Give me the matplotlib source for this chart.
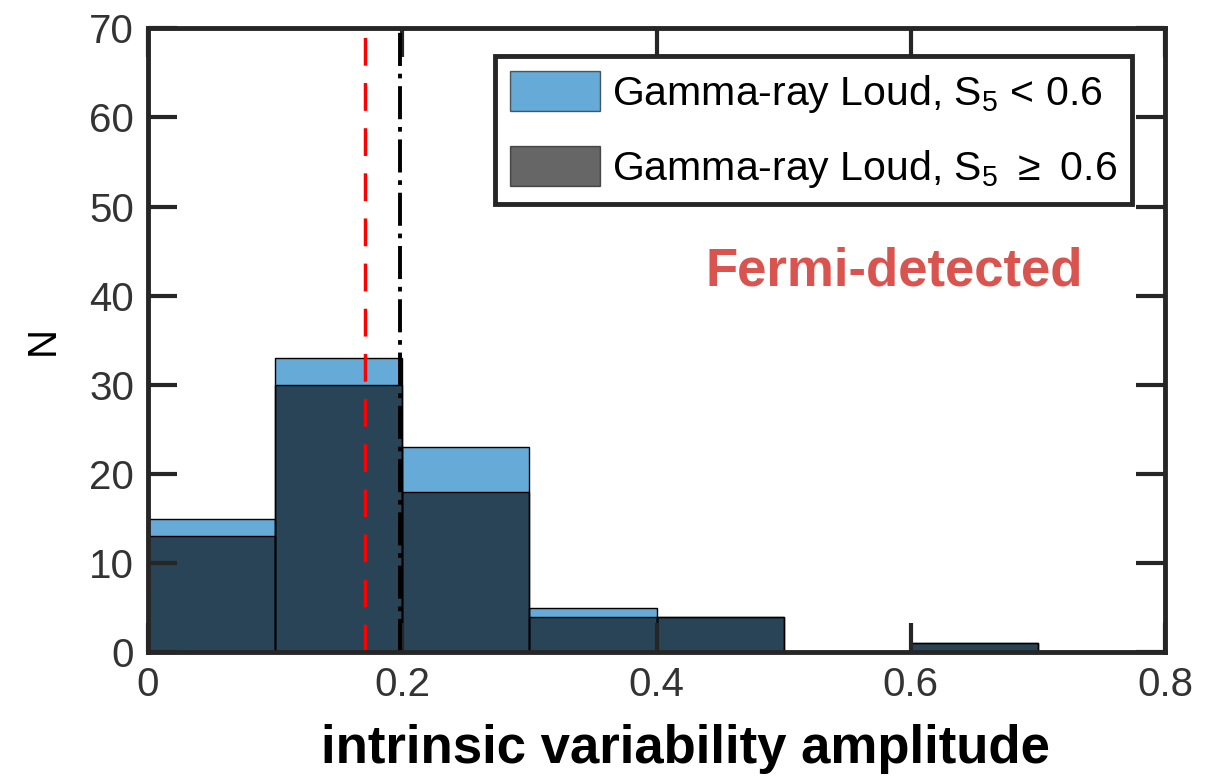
import matplotlib.pyplot as plt
import numpy as np

plt.rcParams["font.family"] = ["Liberation Sans", "DejaVu Sans"]
plt.rcParams["mathtext.fontset"] = "custom"
plt.rcParams["mathtext.rm"] = "Liberation Sans"

# histogram data (bin edges and counts)
bin_edges = [0.0, 0.1, 0.2, 0.3, 0.4, 0.5, 0.6, 0.7]
counts_low = [15, 33, 23, 5, 4, 0, 1]    # S5 < 0.6
counts_high = [13, 30, 18, 4, 4, 0, 1]   # S5 >= 0.6
median_low = 0.171
median_high = 0.198

label_low = r"Gamma-ray Loud, S$_5$ < 0.6"
label_high = r"Gamma-ray Loud, S$_5$ $\geq$ 0.6"

fig = plt.figure(figsize=(12.2, 7.84), dpi=100)
ax = fig.add_axes([0.1213, 0.168, 0.8337, 0.796])

lefts = np.array(bin_edges[:-1])
widths = np.diff(bin_edges)
ax.bar(lefts, counts_low, width=widths, align='edge', color=(0, 0.447, 0.741),
       alpha=0.6, edgecolor='none', label=label_low)
ax.bar(lefts, counts_low, width=widths, align='edge', fill=False,
       edgecolor='black', linewidth=1)
ax.bar(lefts, counts_high, width=widths, align='edge', color='black',
       alpha=0.6, edgecolor='none', label=label_high)
ax.bar(lefts, counts_high, width=widths, align='edge', fill=False,
       edgecolor='black', linewidth=1)

ax.axvline(median_low, color='red', ls=(0, (8, 5)), lw=2.5)
ax.axvline(median_high, color='black', ls=(0, (8.5, 2, 1.2, 2)), lw=2.8)

ax.set_xlim(0, 0.8)
ax.set_ylim(0, 70)
ax.set_xticks([0, 0.2, 0.4, 0.6, 0.8])
ax.set_xticklabels(['0', '0.2', '0.4', '0.6', '0.8'])
ax.set_yticks(range(0, 71, 10))

dark = '#262626'
for s in ax.spines.values():
    s.set_linewidth(3.5)
    s.set_color(dark)
ax.tick_params(direction='in', length=21, width=3, color=dark,
               labelsize=29, labelcolor='#333333', top=True, right=True, pad=10)

ax.set_xlabel('intrinsic variability amplitude', fontsize=38, fontweight='bold')
ax.xaxis.set_label_coords(0.528, -0.115)
ax.set_ylabel('N', fontsize=29, labelpad=20)

leg = ax.legend(loc='upper right', bbox_to_anchor=(0.967, 0.955), fontsize=29.5,
                frameon=True, fancybox=False, edgecolor=dark, framealpha=1,
                handlelength=2.2, handleheight=1.15, borderpad=0.35,
                labelspacing=0.75, handletextpad=0.3, borderaxespad=0)
leg.get_frame().set_linewidth(3.5)
for h in leg.legend_handles:
    h.set_edgecolor('black')
    h.set_linewidth(1)

ax.text(0.734, 0.61, 'Fermi-detected', transform=ax.transAxes, fontsize=38,
        fontweight='bold', color='#D9534F', ha='center', va='center')

fig.savefig('out.png', dpi=100)
